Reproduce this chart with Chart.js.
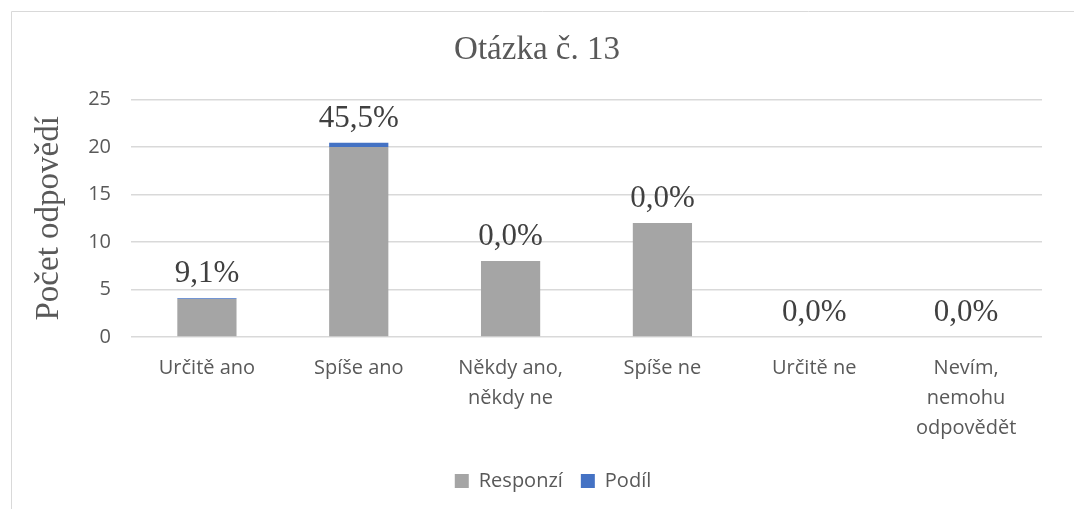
<!DOCTYPE html>
<html>
<head>
<meta charset="utf-8">
<script src="https://cdn.jsdelivr.net/npm/chart.js@4"></script>
<style>
  html, body { margin: 0; padding: 0; background: #fff; }
  #wrap { width: 1074px; height: 509px; position: relative; }
</style>
</head>
<body>
<div id="wrap"><canvas id="chart"></canvas></div>
<script>
// categories and values
const categories = [
    'Určitě ano',
    'Spíše ano',
    ['Někdy ano,', 'někdy ne'],
    'Spíše ne',
    'Určitě ne',
    ['Nevím,', 'nemohu', 'odpovědět']
];
const responzi = [4, 20, 8, 12, 0, 0];
const podil = [0.091, 0.455, 0, 0, 0, 0];
const yTicks = [0, 5, 10, 15, 20, 25];

const textGray = '#595959';
const gridGray = '#d9d9d9';
const serif = '"Liberation Serif", "Times New Roman", serif';
const sans = '"Open Sans", sans-serif';

function pct(v) {
    return (v * 100).toFixed(1).replace('.', ',') + '%';
}

// outer frame of the chart object (only top and left edges visible)
const framePlugin = {
    id: 'frame',
    beforeDraw(chart) {
        const ctx = chart.ctx;
        ctx.save();
        ctx.strokeStyle = '#d9d9d9';
        ctx.lineWidth = 1;
        ctx.beginPath();
        ctx.moveTo(11.5, 509);
        ctx.lineTo(11.5, 11.5);
        ctx.lineTo(1074, 11.5);
        ctx.stroke();
        ctx.restore();
    }
};

// title and legend sit centred on the whole frame, not on the padded area
const centerPlugin = {
    id: 'centerBoxes',
    afterLayout(chart) {
        if (chart.titleBlock) {
            chart.titleBlock.left += 16;
            chart.titleBlock.right += 16;
        }
        if (chart.legend) {
            chart.legend.left += 32;
            chart.legend.right += 32;
        }
    }
};

// percentage labels above each stack
const labelPlugin = {
    id: 'stackLabels',
    afterDatasetsDraw(chart) {
        const ctx = chart.ctx;
        const yScale = chart.scales.y;
        const xScale = chart.scales.x;
        ctx.save();
        ctx.font = '31px ' + serif;
        ctx.fillStyle = '#404040';
        ctx.textAlign = 'center';
        ctx.textBaseline = 'middle';
        categories.forEach((c, i) => {
            const top = yScale.getPixelForValue(responzi[i] + podil[i]);
            const x = xScale.getPixelForValue(i);
            ctx.fillText(pct(podil[i]), x, top - 24);
        });
        ctx.restore();
    }
};

new Chart(document.getElementById('chart'), {
    type: 'bar',
    data: {
        labels: categories,
        datasets: [
            {
                label: 'Responzí',
                data: responzi,
                backgroundColor: '#a5a5a5',
                borderWidth: 0
            },
            {
                label: 'Podíl',
                data: podil,
                backgroundColor: '#4472c4',
                borderWidth: 0
            }
        ]
    },
    options: {
        responsive: true,
        maintainAspectRatio: false,
        animation: false,
        layout: { padding: { left: 0, right: 32, top: 0, bottom: 8 } },
        datasets: {
            bar: { categoryPercentage: 1, barPercentage: 0.39 }
        },
        scales: {
            x: {
                stacked: true,
                grid: { display: false, drawTicks: false },
                border: { display: false },
                ticks: {
                    color: textGray,
                    font: { family: sans, size: 20, lineHeight: 1.5 },
                    padding: 16,
                    maxRotation: 0,
                    autoSkip: false
                },
                afterFit(scale) { scale.height = 116; }
            },
            y: {
                stacked: true,
                min: 0,
                max: 25,
                afterBuildTicks(scale) {
                    scale.ticks = yTicks.map(v => ({ value: v }));
                },
                grid: { color: gridGray, lineWidth: 1.5, drawTicks: false },
                border: { display: false },
                ticks: {
                    color: textGray,
                    font: { family: sans, size: 20 },
                    padding: 20
                },
                title: {
                    display: true,
                    text: 'Počet odpovědí',
                    color: textGray,
                    font: { family: serif, size: 33 },
                    padding: { top: 30, bottom: 0 }
                },
                afterFit(scale) { scale.width = 131; }
            }
        },
        plugins: {
            title: {
                display: true,
                text: 'Otázka č. 13',
                color: textGray,
                font: { family: serif, size: 33, weight: 'normal' },
                padding: { top: 31, bottom: 29 }
            },
            legend: {
                position: 'bottom',
                labels: {
                    color: textGray,
                    font: { family: sans, size: 20 },
                    boxWidth: 14,
                    boxHeight: 14,
                    padding: 18
                }
            },
            tooltip: { enabled: false }
        }
    },
    plugins: [framePlugin, centerPlugin, labelPlugin]
});
</script>
</body>
</html>
